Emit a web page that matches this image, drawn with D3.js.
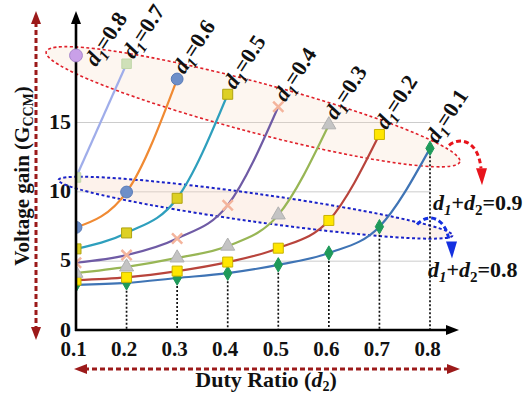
<!DOCTYPE html>
<html>
<head>
<meta charset="utf-8">
<script src="https://cdn.jsdelivr.net/npm/d3@7"></script>
<style>
body { margin: 0; background: #fff; }
text { font-family: "Liberation Serif", "Times New Roman", serif; font-weight: bold; fill: #111; }
</style>
</head>
<body>
<svg width="529" height="396"></svg>
<script>
// duty ratio d2 where the curves are sampled
const d2Values = [0.1, 0.2, 0.3, 0.4, 0.5, 0.6, 0.7, 0.8];
const d1Values = [0.1, 0.2, 0.3, 0.4, 0.5, 0.6, 0.7, 0.8];
// voltage gain for every d1 (d2 = 0.1 ... 0.9 - d1)
const gainD1_01 = [3.25, 3.4, 3.75, 4.1, 4.7, 5.55, 7.45, 13.1];
const gainD1_02 = [3.6, 3.8, 4.25, 4.9, 5.9, 7.9, 14.1];
const gainD1_03 = [4.1, 4.55, 5.2, 6.05, 8.3, 14.8];
const gainD1_04 = [4.85, 5.4, 6.6, 9.0, 16.1];
const gainD1_05 = [5.85, 7.0, 9.5, 17.0];
const gainD1_06 = [7.4, 9.95, 18.1];
const gainD1_07 = [11.0, 19.2];
const gainD1_08 = [19.8];
const gains = [gainD1_01, gainD1_02, gainD1_03, gainD1_04, gainD1_05, gainD1_06, gainD1_07, gainD1_08];
const yTicks = [0, 5, 10, 15];

const lineColors = ['#3f74b5', '#b8443c', '#98b655', '#6f5ba5', '#2e9fbd', '#f08a33', '#9fadea', 'none'];
const markerFill = ['#1f9a5a', '#ffe600', '#c4c4c4', 'none', '#ddd024', '#6d8fc9', '#cfe0b8', '#c9a0e8'];
const markerStroke = ['#1f9a5a', '#c9b300', '#b0b0b0', '#f4b49c', '#b0a310', '#5a7cb8', '#c0d6a8', '#a886cc'];
const markerShape = [d3.symbolDiamond, d3.symbolSquare, d3.symbolTriangle, d3.symbolTimes,
                     d3.symbolSquare, d3.symbolCircle, d3.symbolSquare, d3.symbolCircle];
const markerSize = [60, 100, 85, 70, 100, 110, 90, 130];

const svg = d3.select('svg');
const x = d3.scaleLinear().domain([0.1, 0.8]).range([76, 430]);
const y = d3.scaleLinear().domain([0, 15]).range([330, 122]);

const series = d1Values.map((d1, i) => ({
    d1, i,
    points: gains[i].map((g, j) => ({d2: d2Values[j], g}))
}));

svg.append('defs').append('clipPath').attr('id', 'plotclip')
    .append('rect').attr('x', x(0.1)).attr('y', 0).attr('width', 529).attr('height', 396);

// grid lines + y tick labels
const yAxis = svg.append('g')
    .attr('transform', `translate(${x(0.1)},0)`)
    .call(d3.axisLeft(y).tickValues(yTicks).tickSizeInner(-(x(0.8) - x(0.1))).tickSizeOuter(0).tickPadding(5));
yAxis.select('.domain').remove();
yAxis.selectAll('line').attr('stroke', '#cccccc').attr('stroke-width', 1);
yAxis.selectAll('text').style('font-size', '22px').attr('fill', '#111').attr('dy', '0.28em');

// ellipses around d1+d2=0.9 and d1+d2=0.8
const upC = [x(0.45), y(16.1)];
svg.append('ellipse')
    .attr('cx', 0).attr('cy', 0).attr('rx', 214).attr('ry', 25)
    .attr('transform', `translate(${upC}) rotate(14.9)`)
    .attr('fill', '#f8d4bc').attr('fill-opacity', 0.22)
    .attr('stroke', '#e0202a').attr('stroke-width', 1.6).attr('stroke-dasharray', '3,2.5');
const loC = [x(0.455), y(8.82)];
svg.append('ellipse')
    .attr('cx', 0).attr('cy', 0).attr('rx', 199).attr('ry', 14)
    .attr('transform', `translate(${loC}) rotate(8)`)
    .attr('fill', '#f8d4bc').attr('fill-opacity', 0.3)
    .attr('stroke', '#1a22c8').attr('stroke-width', 2).attr('stroke-dasharray', '3,2.5');

// dotted drop lines from the d1=0.1 curve
svg.append('g').selectAll('line')
    .data(series[0].points.filter(p => p.d2 > 0.15))
    .join('line')
    .attr('x1', d => x(d.d2)).attr('x2', d => x(d.d2))
    .attr('y1', d => y(d.g)).attr('y2', y(0))
    .attr('stroke', '#111').attr('stroke-width', 1.7).attr('stroke-dasharray', '2,2');

// curves
const line = d3.line().x(d => x(d.d2)).y(d => y(d.g)).curve(d3.curveMonotoneX);
svg.append('g').selectAll('path')
    .data(series.filter(s => s.points.length > 1))
    .join('path')
    .attr('d', s => line(s.points))
    .attr('fill', 'none')
    .attr('stroke', s => lineColors[s.i])
    .attr('stroke-width', 2.2);

// markers (the ones on the y axis are half hidden, as in the figure)
function drawMarkers(g, list) {
    g.selectAll('g')
        .data(list)
        .join('g')
        .each(function (s) {
            d3.select(this).selectAll('path')
                .data(s.points)
                .join('path')
                .attr('transform', d => `translate(${x(d.d2)},${y(d.g)})`)
                .attr('d', d3.symbol().type(markerShape[s.i]).size(markerSize[s.i]))
                .attr('fill', markerFill[s.i])
                .attr('stroke', markerStroke[s.i])
                .attr('stroke-width', s.i === 3 ? 2.5 : 1);
        });
}
drawMarkers(svg.append('g').attr('clip-path', 'url(#plotclip)'), series.filter(s => s.points.length > 1));

// axes with arrows
const axes = svg.append('g');
axes.append('line').attr('x1', x(0.1)).attr('x2', x(0.1)).attr('y1', y(0) + 1).attr('y2', 20)
    .attr('stroke', '#000').attr('stroke-width', 2.6);
axes.append('path').attr('d', `M${x(0.1)},11 L${x(0.1) - 5},24 L${x(0.1) + 5},24 Z`).attr('fill', '#000');
axes.append('line').attr('x1', x(0.1) - 1).attr('x2', 448).attr('y1', y(0)).attr('y2', y(0))
    .attr('stroke', '#000').attr('stroke-width', 2.6);
axes.append('path').attr('d', `M459,${y(0)} L446,${y(0) - 5} L446,${y(0) + 5} Z`).attr('fill', '#000');

// the single d1=0.8 point sits on top of the axis
drawMarkers(svg.append('g'), series.filter(s => s.points.length === 1));

// x tick labels
const xAxis = svg.append('g')
    .attr('transform', `translate(-3,${y(0)})`)
    .call(d3.axisBottom(x).tickValues(d2Values).tickFormat(d3.format('.1f')).tickSize(0).tickPadding(11));
xAxis.select('.domain').remove();
xAxis.selectAll('text').style('font-size', '21px').attr('fill', '#111');

// series labels d1=...
const lab = svg.append('g').selectAll('text')
    .data(series)
    .join('text')
    .attr('transform', s => {
        const p = s.points[s.points.length - 1];
        const dx = s.d1 > 0.75 ? 20 : 7;
        const dy = s.d1 > 0.75 ? 12 : -4;
        return `translate(${x(p.d2) + dx},${y(p.g) + dy}) rotate(-57)`;
    })
    .style('font-size', '22px');
lab.append('tspan').style('font-style', 'italic').text('d');
lab.append('tspan').style('font-style', 'italic').style('font-size', '15px').attr('dy', 5).text('1');
lab.append('tspan').attr('dy', -5).text(s => '=' + d3.format('.1f')(s.d1));

// red dashed double arrows
const dred = '#9c1a1a';
svg.append('line').attr('x1', 84).attr('x2', 450).attr('y1', 369).attr('y2', 369)
    .attr('stroke', dred).attr('stroke-width', 3).attr('stroke-dasharray', '5,3');
svg.append('path').attr('d', 'M74,369 L87,364 L87,374 Z').attr('fill', dred);
svg.append('path').attr('d', 'M460,369 L447,364 L447,374 Z').attr('fill', dred);
svg.append('line').attr('x1', 36).attr('x2', 36).attr('y1', 22).attr('y2', 328)
    .attr('stroke', dred).attr('stroke-width', 3).attr('stroke-dasharray', '5,3');
svg.append('path').attr('d', 'M36,11 L31,24 L41,24 Z').attr('fill', dred);
svg.append('path').attr('d', 'M36,340 L31,327 L41,327 Z').attr('fill', dred);

// curved arrows pointing to the sum labels
const p9 = [x(0.8), y(13.1)];
svg.append('path')
    .attr('d', `M${p9[0] + 19},${p9[1] - 3} C${p9[0] + 30},${p9[1] - 12} ${p9[0] + 48},${p9[1] - 8} ${p9[0] + 51},${p9[1] + 20}`)
    .attr('fill', 'none').attr('stroke', '#e8141c').attr('stroke-width', 3).attr('stroke-dasharray', '5,3');
svg.append('path')
    .attr('d', `M${p9[0] + 52},${p9[1] + 37} L${p9[0] + 46},${p9[1] + 20} L${p9[0] + 57},${p9[1] + 20} Z`)
    .attr('fill', '#e8141c');
const p8 = [x(0.8), y(7.9)];
svg.append('path')
    .attr('d', `M${p8[0] - 13},${p8[1] + 4} C${p8[0] - 3},${p8[1] - 7} ${p8[0] + 15},${p8[1] - 5} ${p8[0] + 19},${p8[1] + 20}`)
    .attr('fill', 'none').attr('stroke', '#1430e0').attr('stroke-width', 3).attr('stroke-dasharray', '5,3');
svg.append('path')
    .attr('d', `M${p8[0] + 22},${p8[1] + 38} L${p8[0] + 16},${p8[1] + 21} L${p8[0] + 27},${p8[1] + 21} Z`)
    .attr('fill', '#1430e0');

// d1+d2 labels
function sumLabel(tx, ty, val) {
    const t = svg.append('text').attr('x', tx).attr('y', ty).style('font-size', '22px');
    t.append('tspan').style('font-style', 'italic').text('d');
    t.append('tspan').style('font-style', 'italic').style('font-size', '15px').attr('dy', 5).text('1');
    t.append('tspan').attr('dy', -5).text('+');
    t.append('tspan').style('font-style', 'italic').text('d');
    t.append('tspan').style('font-size', '15px').attr('dy', 5).text('2');
    t.append('tspan').attr('dy', -5).text('=' + val);
}
sumLabel(433, 210, '0.9');
sumLabel(428, 277, '0.8');

// axis titles
const yt = svg.append('text')
    .attr('transform', 'translate(29,176) rotate(-90)')
    .attr('text-anchor', 'middle').style('font-size', '21px');
yt.append('tspan').text('Voltage gain (G');
yt.append('tspan').style('font-size', '14px').attr('dy', 4).text('CCM');
yt.append('tspan').attr('dy', -4).text(')');

const xt = svg.append('text')
    .attr('x', 266).attr('y', 387)
    .attr('text-anchor', 'middle').style('font-size', '22px');
xt.append('tspan').text('Duty Ratio (');
xt.append('tspan').style('font-style', 'italic').text('d');
xt.append('tspan').style('font-size', '14px').attr('dy', 4).text('2');
xt.append('tspan').attr('dy', -4).text(')');
</script>
</body>
</html>
